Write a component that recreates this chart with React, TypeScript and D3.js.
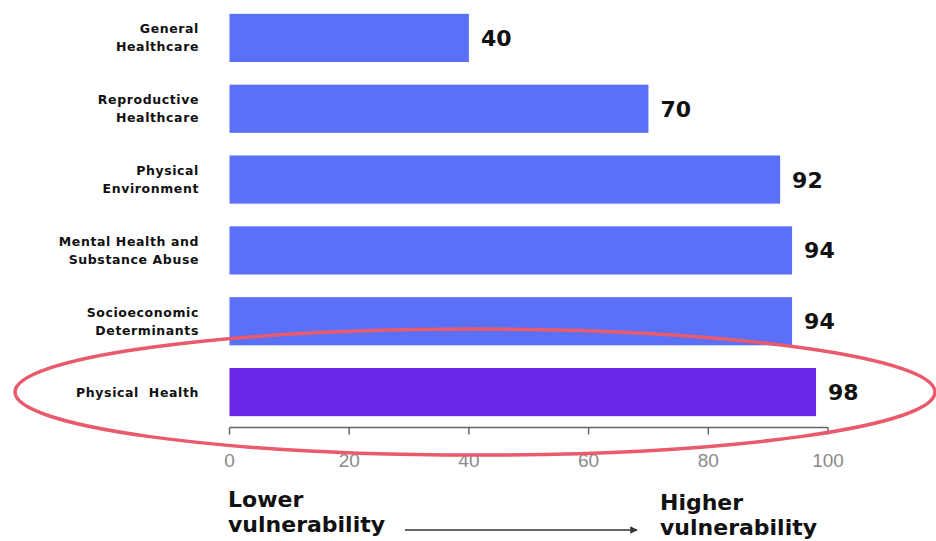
import React from "react";
import * as d3 from "d3";

const categories: string[][] = [
  ["General", "Healthcare"],
  ["Reproductive", "Healthcare"],
  ["Physical", "Environment"],
  ["Mental Health and", "Substance Abuse"],
  ["Socioeconomic", "Determinants"],
  ["Physical  Health"],
];
const scores: number[] = [40, 70, 92, 94, 94, 98];
const highlighted: boolean[] = [false, false, false, false, false, true];
const tickValues: number[] = [0, 20, 40, 60, 80, 100];

const W = 936;
const H = 541;
const x0 = 229.5;
const x1 = 828;
const bandTop = 2.5;
const bandBottom = 427.5;

const BLUE = "#5b70f8";
const PURPLE = "#6b26ea";
const RING = "#e85a6c";
const LABEL_FONT = "'DejaVu Sans', sans-serif";

export default function App() {
  const keys = categories.map((c) => c.join(" "));
  const x = d3.scaleLinear().domain([0, 100]).range([x0, x1]);
  const y = d3
    .scaleBand<string>()
    .domain(keys)
    .range([bandTop, bandBottom])
    .paddingInner(0.32)
    .paddingOuter(0.16);
  const bw = y.bandwidth();
  const axisY = 427.5;

  const hiKey = keys[highlighted.indexOf(true)];
  const ringCy = (y(hiKey) ?? 0) + bw / 2;

  return (
    <svg
      width={W}
      height={H}
      style={{ position: "absolute", left: 0, top: 0, background: "#fff" }}
    >
      {keys.map((k, i) => {
        const top = y(k) ?? 0;
        const lines = categories[i];
        const cy = top + bw / 2;
        const lh = 18;
        return (
          <g key={k}>
            <rect
              x={x(0)}
              y={top}
              width={x(scores[i]) - x(0)}
              height={bw}
              fill={highlighted[i] ? PURPLE : BLUE}
            />
            {lines.map((ln, j) => (
              <text
                key={j}
                x={199}
                y={cy + (j - (lines.length - 1) / 2) * lh}
                dy="0.36em"
                textAnchor="end"
                fontFamily={LABEL_FONT}
                fontWeight={700}
                fontSize={12.5}
                letterSpacing={0.6}
                fill="#111"
                style={{ whiteSpace: "pre" }}
              >
                {ln}
              </text>
            ))}
            <text
              x={x(scores[i]) + 12}
              y={cy}
              dy="0.36em"
              fontFamily={LABEL_FONT}
              fontWeight={700}
              fontSize={22}
              fill="#111"
            >
              {scores[i]}
            </text>
          </g>
        );
      })}

      {/* value axis */}
      <line x1={x(0)} x2={x(100)} y1={axisY} y2={axisY} stroke="#666" strokeWidth={1.5} />
      {tickValues.map((t) => (
        <g key={t}>
          <line x1={x(t)} x2={x(t)} y1={axisY} y2={axisY + 7} stroke="#666" strokeWidth={1.5} />
          <text
            x={x(t)}
            y={460}
            dy="0.36em"
            textAnchor="middle"
            fontFamily="'Liberation Sans', sans-serif"
            fontSize={19}
            fill="#8a8a8a"
          >
            {t}
          </text>
        </g>
      ))}

      {/* annotation ring around the highlighted row */}
      <ellipse
        cx={475}
        cy={ringCy}
        rx={460}
        ry={63}
        fill="none"
        stroke={RING}
        strokeWidth={3.5}
      />

      {/* direction legend */}
      <defs>
        <marker id="arrowHead" viewBox="0 0 10 10" refX={9} refY={5} markerWidth={5} markerHeight={5} orient="auto">
          <path d="M0,0 L10,5 L0,10 z" fill="#333" />
        </marker>
      </defs>
      <g fontFamily={LABEL_FONT} fontWeight={700} fontSize={22} fill="#111">
        <text x={228} y={507}>Lower</text>
        <text x={228} y={532}>vulnerability</text>
        <text x={660} y={510}>Higher</text>
        <text x={660} y={535}>vulnerability</text>
      </g>
      <line
        x1={405}
        x2={637}
        y1={530}
        y2={530}
        stroke="#333"
        strokeWidth={1.5}
        markerEnd="url(#arrowHead)"
      />
    </svg>
  );
}
